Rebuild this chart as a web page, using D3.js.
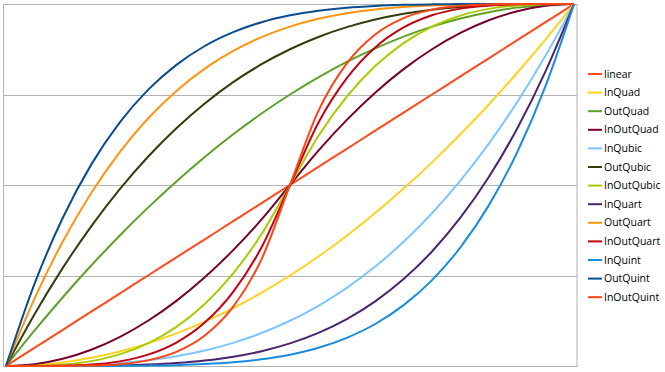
<!DOCTYPE html>
<html>
<head>
<meta charset="utf-8">
<script src="https://cdn.jsdelivr.net/npm/d3@7"></script>
<style>
  body { margin: 0; background: #fff; }
  text { font-family: "Open Sans", sans-serif; font-size: 10.5px; fill: #000; }
</style>
</head>
<body>
<script>
var width  = 665;
var height = 372;

// t positions along the x axis
var steps = [0, .05, .1, .15, .2, .25, .3, .35, .4, .45, .5, .55, .6, .65, .7, .75, .8, .85, .9, .95, 1];

// gridline values on the value axis
var gridValues = [0, .25, .5, .75, 1];

var names = ['linear', 'InQuad', 'OutQuad', 'InOutQuad', 'InQubic', 'OutQubic', 'InOutQubic',
             'InQuart', 'OutQuart', 'InOutQuart', 'InQuint', 'OutQuint', 'InOutQuint'];

var linear     = [0, .05, .1, .15, .2, .25, .3, .35, .4, .45, .5, .55, .6, .65, .7, .75, .8, .85, .9, .95, 1];
var inQuad     = [0, .0025, .01, .0225, .04, .0625, .09, .1225, .16, .2025, .25, .3025, .36, .4225, .49, .5625, .64, .7225, .81, .9025, 1];
var outQuad    = [0, .0975, .19, .2775, .36, .4375, .51, .5775, .64, .6975, .75, .7975, .84, .8775, .91, .9375, .96, .9775, .99, .9975, 1];
var inOutQuad  = [0, .005, .02, .045, .08, .125, .18, .245, .32, .405, .5, .595, .68, .755, .82, .875, .92, .955, .98, .995, 1];
var inQubic    = [0, .0001, .001, .0034, .008, .0156, .027, .0429, .064, .0911, .125, .1664, .216, .2746, .343, .4219, .512, .6141, .729, .8574, 1];
var outQubic   = [0, .1426, .271, .3859, .488, .5781, .657, .7254, .784, .8336, .875, .9089, .936, .9571, .973, .9844, .992, .9966, .999, .9999, 1];
var inOutQubic = [0, .0005, .004, .0135, .032, .0625, .108, .1715, .256, .3645, .5, .6355, .744, .8285, .892, .9375, .968, .9865, .996, .9995, 1];
var inQuart    = [0, 0, .0001, .0005, .0016, .0039, .0081, .015, .0256, .041, .0625, .0915, .1296, .1785, .2401, .3164, .4096, .522, .6561, .8145, 1];
var outQuart   = [0, .1855, .3439, .478, .5904, .6836, .7599, .8215, .8704, .9085, .9375, .959, .9744, .985, .9919, .9961, .9984, .9995, .9999, 1, 1];
var inOutQuart = [0, .0001, .0008, .0041, .0128, .0313, .0648, .1201, .2048, .3281, .5, .672, .7952, .88, .9352, .9688, .9872, .996, .9992, .9999, 1];
var inQuint    = [0, 0, 0, .0001, .0003, .001, .0024, .0053, .0102, .0185, .0313, .0503, .0778, .116, .1681, .2373, .3277, .4437, .5905, .7738, 1];
var outQuint   = [0, .2262, .4095, .5563, .6723, .7627, .8319, .884, .9222, .9497, .9688, .9815, .9898, .9947, .9976, .999, .9997, .9999, 1, 1, 1];
var inOutQuint = [0, 0, .0002, .0012, .0051, .0156, .0389, .084, .1638, .2952, .5, .7048, .8362, .916, .9611, .9844, .9949, .9988, .9998, 1, 1];

var series = [linear, inQuad, outQuad, inOutQuad, inQubic, outQubic, inOutQubic,
              inQuart, outQuart, inOutQuart, inQuint, outQuint, inOutQuint];

var colors = ['#ff4a1c', '#ffd21e', '#5ea125', '#780030', '#7ec6ff', '#323c0c', '#aacb00',
              '#4a2470', '#ff9410', '#c4000f', '#198cdc', '#0a4c8c', '#ff4414'];

var svg = d3.select('body').append('svg')
    .attr('width', width)
    .attr('height', height);

var plot = {left: 3.5, right: 577, top: 4, bottom: 366};

var x = d3.scaleLinear().domain([0, 1]).range([6, 574]);
var y = d3.scaleLinear().domain([0, 1]).range([plot.bottom, plot.top]);

// horizontal gridlines
svg.append('g')
  .selectAll('line')
  .data(gridValues)
  .enter().append('line')
    .attr('x1', plot.left)
    .attr('x2', plot.right)
    .attr('y1', function(d) { return Math.round(y(d)) + 0.5; })
    .attr('y2', function(d) { return Math.round(y(d)) + 0.5; })
    .attr('stroke', '#b3b3b3')
    .attr('stroke-width', 1);

// plot frame
svg.append('rect')
  .attr('x', plot.left)
  .attr('y', plot.top + 0.5)
  .attr('width', plot.right - plot.left)
  .attr('height', plot.bottom - plot.top)
  .attr('fill', 'none')
  .attr('stroke', '#b3b3b3')
  .attr('stroke-width', 1);

var line = d3.line()
  .x(function(d, i) { return x(steps[i]); })
  .y(function(d) { return y(d); })
  .curve(d3.curveMonotoneX);

svg.append('g')
  .selectAll('path')
  .data(series)
  .enter().append('path')
    .attr('d', line)
    .attr('fill', 'none')
    .attr('stroke', function(d, i) { return colors[i]; })
    .attr('stroke-width', 2)
    .attr('stroke-linejoin', 'round');

// legend
var legend = svg.append('g')
  .selectAll('g')
  .data(names)
  .enter().append('g')
    .attr('transform', function(d, i) { return 'translate(588,' + (74 + i * 18.6) + ')'; });

legend.append('line')
  .attr('x1', 0)
  .attr('x2', 14)
  .attr('stroke', function(d, i) { return colors[i]; })
  .attr('stroke-width', 2);

legend.append('text')
  .attr('x', 16)
  .attr('dy', '0.35em')
  .text(function(d) { return d; });
</script>
</body>
</html>
